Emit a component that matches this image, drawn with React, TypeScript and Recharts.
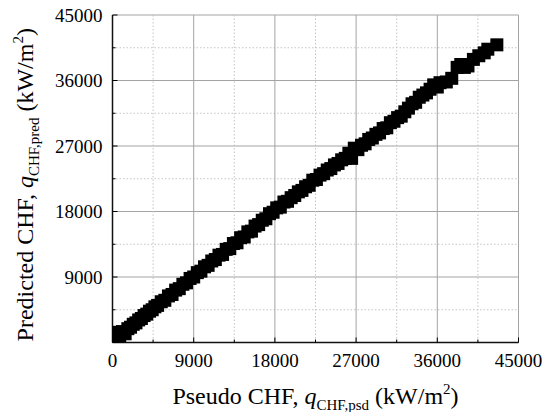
import { ScatterChart, Scatter, XAxis, YAxis, CartesianGrid } from 'recharts'

// axis ticks (major every 9000, minor every 4500)
const allTicks = [0, 4500, 9000, 13500, 18000, 22500, 27000, 31500, 36000, 40500, 45000]
const majorTicks = [0, 9000, 18000, 27000, 36000, 45000]

// Pseudo CHF (x) and predicted CHF (y), kW/m2
const pseudoChf = [
  0, 300, 500, 800, 1100, 1400, 1700, 2000, 2300, 2600, 2900, 3200, 3500, 3800, 4100, 4400,
  4700, 5000, 5400, 5800, 6200, 6600, 7000, 7400, 7800, 8200, 8600, 9000, 9400, 9800,
  10200, 10600, 11000, 11400, 11800, 12200, 12600, 13000, 13400, 13800, 14200, 14600,
  15000, 15400, 15800, 16200, 16600, 17000, 17400, 17800, 18200, 18600, 19000, 19400,
  19800, 20200, 20600, 21000, 21400, 21800, 22200, 22600, 23000, 23400, 23800, 24200,
  24600, 25000, 25400, 25800, 26200, 26500, 26800, 27200, 27600, 28000, 28400, 28800,
  29200, 29600, 30000, 30400, 30800, 31200, 31600, 32000, 32400, 32800, 33200, 33600,
  34000, 34400, 34800, 35200, 35600, 36000, 36300, 37000, 37600, 38200, 38600, 39000,
  39400, 40000, 40600, 41200, 41600, 42600
]
const predictedChf = [
  1300, 500, 1400, 800, 1500, 1200, 1900, 2100, 2500, 2700, 3100, 3300, 3700, 3900, 4300, 4500,
  4900, 5100, 5600, 5800, 6400, 6600, 7200, 7400, 8000, 8200, 8800, 9000, 9600, 9800,
  10400, 10600, 11200, 11400, 12000, 12100, 12800, 12900, 13600, 13700, 14400, 14500,
  15200, 15300, 16000, 16200, 16800, 17000, 17700, 17900, 18500, 18600, 19300, 19400,
  19900, 20200, 20700, 20900, 21400, 21600, 22300, 22400, 23000, 23200, 23700, 23900,
  24400, 24600, 25100, 25300, 26000, 25300, 26700, 26500, 27100, 27300, 27900, 28100,
  28600, 28800, 29400, 29500, 30200, 30400, 30900, 31100, 31700, 32200, 32800, 33000,
  33700, 34000, 34300, 34800, 35400, 35100, 35700, 35800, 36300, 37800, 38200, 37800,
  38000, 38900, 39400, 39800, 40300, 40900
]

const data = pseudoChf.map((x, i) => ({ x, y: predictedChf[i] }))

const FONT = "'Liberation Serif', 'Times New Roman', serif"
const W = 545
const H = 412
const PLOT_LEFT = 112.5
const PLOT_TOP = 15
const PLOT_RIGHT = 518.5
const PLOT_BOTTOM = 342.5
const MARK = 13

const isMajor = (v: number) => majorTicks.includes(v)

function BottomTick({ x, y, payload }: any) {
  const major = isMajor(payload.value)
  return (
    <g>
      <line x1={x} y1={y} x2={x} y2={y - (major ? 5 : 3)} stroke="#000" />
      {major && (
        <text x={x} y={y + 24} textAnchor="middle" fill="#000" style={{ fontFamily: FONT, fontSize: 19 }}>
          {payload.value}
        </text>
      )}
    </g>
  )
}

function LeftTick({ x, y, payload }: any) {
  const major = isMajor(payload.value)
  return (
    <g>
      <line x1={x} y1={y} x2={x + (major ? 5 : 3)} y2={y} stroke="#000" />
      {major && payload.value !== 0 && (
        <text x={x - 10} y={y + 6.5} textAnchor="end" fill="#000" style={{ fontFamily: FONT, fontSize: 19 }}>
          {payload.value}
        </text>
      )}
    </g>
  )
}

function TopTick({ x, y, payload }: any) {
  const major = isMajor(payload.value)
  return <line x1={x} y1={y} x2={x} y2={y + (major ? 5 : 3)} stroke="#000" />
}

function RightTick({ x, y, payload }: any) {
  const major = isMajor(payload.value)
  return <line x1={x} y1={y} x2={x - (major ? 5 : 3)} y2={y} stroke="#000" />
}

function gridLine(props: any) {
  const { x1, y1, x2, y2, index } = props
  const major = index % 2 === 0
  return (
    <line
      key={props.key}
      x1={x1}
      y1={y1}
      x2={x2}
      y2={y2}
      stroke={major ? '#a3a3a3' : '#c4c4c4'}
      strokeWidth={1}
      strokeDasharray={major ? undefined : '1.5 2'}
    />
  )
}

const SquareDot = (props: any) => (
  <rect x={props.cx - MARK / 2} y={props.cy - MARK / 2} width={MARK} height={MARK} fill="#000" />
)

function Titles() {
  const cx = (PLOT_LEFT + PLOT_RIGHT) / 2
  const cy = (PLOT_TOP + PLOT_BOTTOM) / 2 + 6
  const style = { fontFamily: FONT, fontSize: 24 }
  return (
    <svg width={W} height={H} style={{ position: 'absolute', left: 0, top: 0, pointerEvents: 'none' }}>
      <text x={cx} y={404} textAnchor="middle" fill="#000" style={style}>
        Pseudo CHF, <tspan fontStyle="italic">q</tspan>
        <tspan fontSize={15} dy={6}>CHF,psd</tspan>
        <tspan dy={-6}> (kW/m</tspan>
        <tspan fontSize={15} dy={-10}>2</tspan>
        <tspan dy={10}>)</tspan>
      </text>
      <text
        x={33}
        y={cy}
        transform={`rotate(-90, 33, ${cy})`}
        textAnchor="middle"
        fill="#000"
        style={style}
      >
        Predicted CHF, <tspan fontStyle="italic">q</tspan>
        <tspan fontSize={15} dy={6}>CHF,pred</tspan>
        <tspan dy={-6}> (kW/m</tspan>
        <tspan fontSize={15} dy={-10}>2</tspan>
        <tspan dy={10}>)</tspan>
      </text>
    </svg>
  )
}

export default function App() {
  return (
    <div style={{ position: 'absolute', left: 0, top: 0, width: W, height: H, background: '#fff' }}>
      <ScatterChart
        width={W}
        height={H}
        margin={{ top: PLOT_TOP, right: W - PLOT_RIGHT, bottom: 0, left: 0 }}
      >
        <CartesianGrid horizontal={gridLine} vertical={gridLine} />
        <XAxis
          type="number"
          dataKey="x"
          domain={[0, 45000]}
          ticks={allTicks}
          interval={0}
          allowDataOverflow
          height={H - PLOT_BOTTOM}
          tickSize={0}
          tickMargin={0}
          tickLine={false}
          axisLine={{ stroke: '#111', strokeWidth: 1.5 }}
          tick={<BottomTick />}
        />
        <YAxis
          type="number"
          dataKey="y"
          domain={[0, 45000]}
          ticks={allTicks}
          interval={0}
          allowDataOverflow
          width={PLOT_LEFT}
          tickSize={0}
          tickMargin={0}
          tickLine={false}
          axisLine={{ stroke: '#111', strokeWidth: 1.5 }}
          tick={<LeftTick />}
        />
        <XAxis
          xAxisId="top"
          orientation="top"
          type="number"
          domain={[0, 45000]}
          ticks={allTicks}
          interval={0}
          allowDataOverflow
          height={0}
          tickSize={0}
          tickMargin={0}
          tickLine={false}
          axisLine={{ stroke: '#111', strokeWidth: 1.5 }}
          tick={<TopTick />}
        />
        <YAxis
          yAxisId="right"
          orientation="right"
          type="number"
          domain={[0, 45000]}
          ticks={allTicks}
          interval={0}
          allowDataOverflow
          width={0}
          tickSize={0}
          tickMargin={0}
          tickLine={false}
          axisLine={{ stroke: '#111', strokeWidth: 1.5 }}
          tick={<RightTick />}
        />
        <Scatter data={data} shape={SquareDot} isAnimationActive={false} />
      </ScatterChart>
      <Titles />
    </div>
  )
}
